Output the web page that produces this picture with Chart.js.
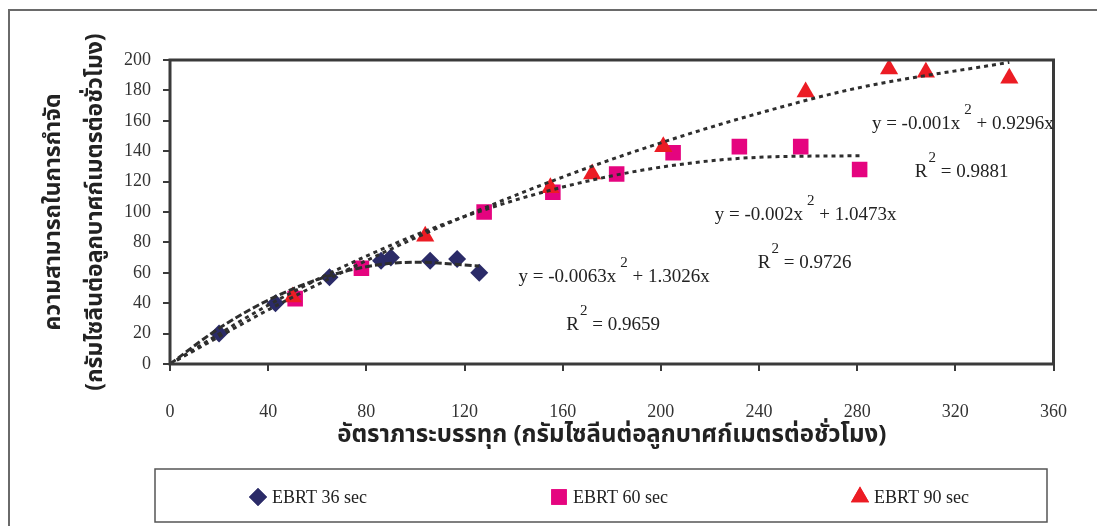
<!DOCTYPE html>
<html>
<head>
<meta charset="utf-8">
<script src="https://cdn.jsdelivr.net/npm/chart.js@4/dist/chart.umd.min.js"></script>
<style>
  html, body { margin: 0; padding: 0; background: #fff; }
  #wrap { width: 1097px; height: 526px; }
</style>
</head>
<body>
<div id="wrap"><canvas id="removalChart" width="1097" height="526"></canvas></div>
<script>
const ebrt36X = [20, 43, 65, 86, 90, 106, 117, 126];
const ebrt36Y = [20, 40, 57, 68, 70, 68, 69, 60];
const ebrt60X = [51, 78, 128, 156, 182, 205, 232, 257, 281];
const ebrt60Y = [43, 63, 100, 113, 125, 139, 143, 143, 128];
const ebrt90X = [50, 104, 155, 172, 201, 259, 293, 308, 342];
const ebrt90Y = [44, 84, 116, 125, 143, 179, 194, 192, 188];

// trendlines
const trend36X = [0, 20, 40, 60, 80, 100, 126];
const trend36Y = [0, 23.5, 42, 55.5, 64, 67, 64.5];
const trend60X = [0, 40, 80, 120, 160, 200, 240, 281];
const trend60Y = [0, 38.7, 71, 97, 116.4, 129.5, 136, 137];
const trend90X = [0, 40, 80, 120, 160, 200, 240, 280, 342];
const trend90Y = [0, 35.6, 68, 97.2, 123, 145.5, 165, 181.5, 198.5];

const seriesNames = ["EBRT 36 sec", "EBRT 60 sec", "EBRT 90 sec"];
const equations = [
  { eq: ["y = -0.0063x", "2", " + 1.3026x"], r2: "0.9659" },
  { eq: ["y = -0.002x", "2", " + 1.0473x"], r2: "0.9726" },
  { eq: ["y = -0.001x", "2", " + 0.9296x"], r2: "0.9881" },
];

const toPoints = (xs, ys) => xs.map((x, i) => ({ x: x, y: ys[i] }));

const serif = "'Liberation Serif', 'Times New Roman', serif";
const thai = "'Noto Sans Thai', 'Loma', 'Garuda', 'Noto Sans', 'DejaVu Sans', sans-serif";
const ink = "#333";

// where the equation labels sit, in data units
const eqSpots = [
  { eq: [142, 57], r2: [161.5, 25.5] },
  { eq: [222, 98], r2: [239.5, 66.5] },
  { eq: [286, 158], r2: [303.5, 126.5] },
];
const legendSpots = [258, 559, 860];

function trendSet(pts, dash) {
  return {
    data: pts,
    showLine: true,
    borderColor: "#2e2e2e",
    borderWidth: 3,
    borderDash: dash,
    pointRadius: 0,
    cubicInterpolationMode: "monotone",
    fill: false,
    order: 0,
  };
}

const framePlugin = {
  id: "frame",
  beforeDraw(chart) {
    const ctx = chart.ctx;
    ctx.save();
    ctx.fillStyle = "#fff";
    ctx.fillRect(0, 0, chart.width, chart.height);
    ctx.strokeStyle = "#6a6a6a";
    ctx.lineWidth = 2;
    ctx.strokeRect(9, 10, 1300, 700);
    ctx.restore();
  },
  afterDraw(chart) {
    const ctx = chart.ctx;
    const a = chart.chartArea;
    const xs = chart.scales.x, ys = chart.scales.y;
    ctx.save();
    ctx.strokeStyle = "#3a3a3a";
    ctx.lineWidth = 3;
    ctx.strokeRect(a.left, a.top, a.right - a.left, a.bottom - a.top);

    // trendline equations
    ctx.fillStyle = "#222";
    ctx.textBaseline = "middle";
    equations.forEach((e, i) => {
      let x = xs.getPixelForValue(eqSpots[i].eq[0]);
      const y = ys.getPixelForValue(eqSpots[i].eq[1]);
      ctx.font = "19px " + serif;
      ctx.fillText(e.eq[0], x, y);
      x += ctx.measureText(e.eq[0]).width + 4;
      ctx.font = "15px " + serif;
      ctx.fillText(e.eq[1], x, y - 14);
      x += ctx.measureText(e.eq[1]).width;
      ctx.font = "19px " + serif;
      ctx.fillText(e.eq[2], x, y);

      let rx = xs.getPixelForValue(eqSpots[i].r2[0]);
      const ry = ys.getPixelForValue(eqSpots[i].r2[1]);
      ctx.fillText("R", rx, ry);
      rx += ctx.measureText("R").width + 1;
      ctx.font = "15px " + serif;
      ctx.fillText("2", rx, ry - 14);
      rx += ctx.measureText("2").width;
      ctx.font = "19px " + serif;
      ctx.fillText(" = " + e.r2, rx, ry);
    });

    // legend box
    ctx.strokeStyle = "#555";
    ctx.lineWidth = 1.5;
    ctx.strokeRect(155, 469, 892, 53);
    const sets = chart.data.datasets.filter((d) => d.label);
    sets.forEach((d, i) => {
      const cx = legendSpots[i];
      ctx.fillStyle = d.backgroundColor;
      ctx.beginPath();
      Chart.helpers.drawPoint(ctx, { pointStyle: d.pointStyle, radius: d.pointRadius, borderWidth: 0 }, cx, 497);
      ctx.fill();
      ctx.fillStyle = "#222";
      ctx.font = "18px " + serif;
      ctx.textBaseline = "middle";
      ctx.fillText(d.label, cx + 14, 498);
    });
    ctx.restore();
  },
};

new Chart(document.getElementById("removalChart").getContext("2d"), {
  type: "scatter",
  data: {
    datasets: [
      trendSet(toPoints(trend36X, trend36Y), [7, 3]),
      trendSet(toPoints(trend60X, trend60Y), [4, 4]),
      trendSet(toPoints(trend90X, trend90Y), [4, 4]),
      {
        label: seriesNames[0],
        data: toPoints(ebrt36X, ebrt36Y),
        pointStyle: "rectRot",
        pointRadius: 9,
        backgroundColor: "#2b2b68",
        borderColor: "#2b2b68",
        borderWidth: 0,
        order: 3,
      },
      {
        label: seriesNames[1],
        data: toPoints(ebrt60X, ebrt60Y),
        pointStyle: "rect",
        pointRadius: 11,
        backgroundColor: "#e5047f",
        borderColor: "#e5047f",
        borderWidth: 0,
        order: 2,
      },
      {
        label: seriesNames[2],
        data: toPoints(ebrt90X, ebrt90Y),
        pointStyle: "triangle",
        pointRadius: 10.5,
        backgroundColor: "#ec1c24",
        borderColor: "#ec1c24",
        borderWidth: 0,
        order: 1,
      },
    ],
  },
  options: {
    responsive: false,
    animation: false,
    layout: { padding: { left: 5, right: 41, top: 60, bottom: 71 } },
    scales: {
      x: {
        type: "linear",
        min: 0,
        max: 360,
        afterFit: (scale) => { scale.height = 91; },
        ticks: { stepSize: 40, padding: 30, color: ink, font: { family: serif, size: 18 } },
        grid: { drawOnChartArea: false, tickLength: 7, color: "#3a3a3a", lineWidth: 2 },
        border: { display: false },
        title: {
          display: true,
          text: "อัตราภาระบรรทุก (กรัมไซลีนต่อลูกบาศก์เมตรต่อชั่วโมง)",
          color: "#222",
          font: { family: thai, size: 24, weight: "bold", lineHeight: 1.2 },
          padding: { top: 0, bottom: 3 },
        },
      },
      y: {
        min: 0,
        max: 200,
        afterFit: (scale) => { scale.width = 165; },
        ticks: { stepSize: 20, padding: 12, color: ink, font: { family: serif, size: 18 } },
        grid: { drawOnChartArea: false, tickLength: 7, color: "#3a3a3a", lineWidth: 2 },
        border: { display: false },
        title: {
          display: true,
          text: ["ความสามารถในการกำจัด", "(กรัมไซลีนต่อลูกบาศก์เมตรต่อชั่วโมง)"],
          color: "#222",
          font: { family: thai, size: 23, weight: "bold", lineHeight: 1.83 },
          padding: { top: 29, bottom: 0 },
        },
      },
    },
    plugins: {
      legend: { display: false },
      tooltip: { enabled: false },
    },
  },
  plugins: [framePlugin],
});
</script>
</body>
</html>
